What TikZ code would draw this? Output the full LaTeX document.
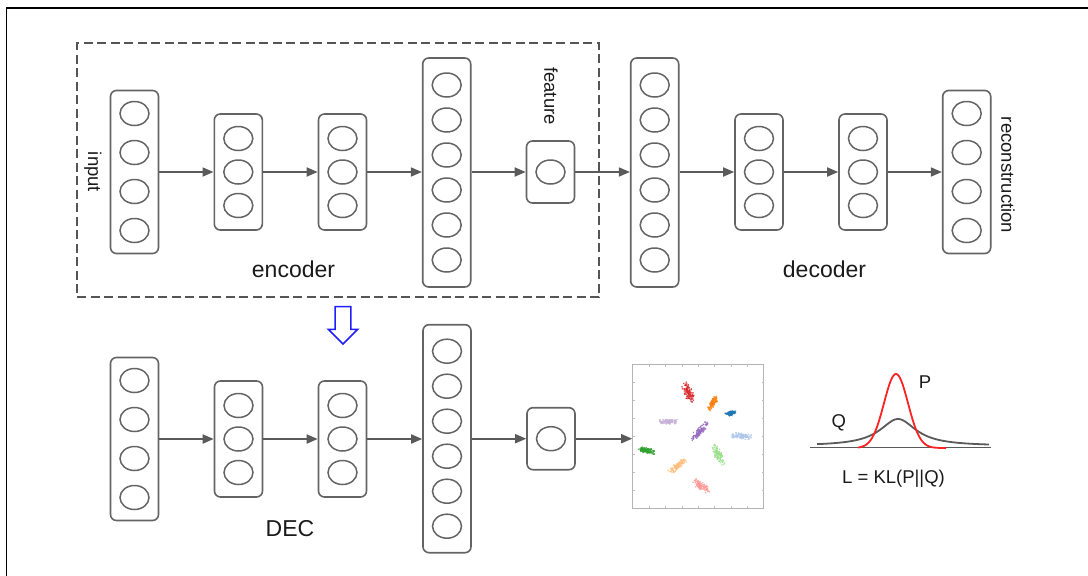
\documentclass[tikz,border=0pt]{standalone}
\usepackage{fontspec}
\setmainfont{Liberation Sans}
\usetikzlibrary{arrows.meta,shapes.geometric}
\definecolor{boxgray}{HTML}{646464}
\definecolor{arrowgray}{HTML}{5A5A5A}
\definecolor{dashgray}{HTML}{555555}
\definecolor{labelblack}{HTML}{1A1A1A}
\definecolor{scattergray}{HTML}{B4B4B4}
\definecolor{tickgray}{HTML}{C0C0C0}
\definecolor{arrowblue}{HTML}{1E1EFF}
\definecolor{pred}{HTML}{FF2222}
\definecolor{qgray}{HTML}{5A5A5A}
\definecolor{cred}{HTML}{D62728}
\definecolor{corange}{HTML}{FF7F0E}
\definecolor{cblue}{HTML}{1F77B4}
\definecolor{clav}{HTML}{C5B0D5}
\definecolor{cpurple}{HTML}{9467BD}
\definecolor{clblue}{HTML}{AEC7E8}
\definecolor{cgreen}{HTML}{2CA02C}
\definecolor{clgreen}{HTML}{98DF8A}
\definecolor{clorange}{HTML}{FFBB78}
\definecolor{cpink}{HTML}{FF9896}
% #1 name, #2 x, #3 y, #4 number of neurons, #5 spacing, #6 box height
\newcommand{\nnlayer}[6]{%
  \node[layerbox, minimum height=#6pt] (#1) at (#2,#3) {};
  \foreach \k in {1,...,#4}{%
    \pgfmathsetmacro{\cyy}{#3+(\k-(#4+1)/2)*#5}%
    \node[neuron] (#1-\k) at (#2,\cyy) {};
  }%
}
% #1 colour, #2 x, #3 y, #4 angle, #5 length, #6 width
\newcommand{\ptcluster}[6]{%
  \begin{scope}[shift={(#2,#3)}, rotate=#4]
    \foreach \k in {1,...,110}{%
      \pgfmathsetmacro{\px}{#5/2*(rand+rand)/2}%
      \pgfmathsetmacro{\py}{#6/2*(rand+rand)/2}%
      \fill[#1, opacity=0.8] (\px,\py) circle (0.9);
    }
  \end{scope}%
}
\begin{document}
\begin{tikzpicture}[x=1pt,y=-1pt,
  layerbox/.style={draw=boxgray, line width=1.6pt, rounded corners=6pt, minimum width=48pt, inner sep=0pt},
  neuron/.style={ellipse, draw=boxgray, line width=1.5pt, minimum width=29pt, minimum height=24pt, inner sep=0pt},
  conn/.style={draw=arrowgray, line width=1.7pt, -{Triangle[length=11pt,width=9pt]}},
  smalllab/.style={font=\fontsize{18.5}{22}\selectfont, text=labelblack, inner sep=0pt},
  biglab/.style={font=\fontsize{23}{27}\selectfont, text=labelblack, inner sep=0pt},
]
\useasboundingbox (0,0) rectangle (1088,576);
\pgfmathsetseed{7}

% outer frame (cropped)
\draw[line width=1.8pt, black] (6.5,580) -- (6.5,8.3) -- (1092,8.3);

% encoder dashed box
\node[draw=dashgray, line width=1.8pt, dash pattern=on 9pt off 4.5pt, minimum width=522pt, minimum height=254pt, inner sep=0pt] (encbox) at (338,170) {};

% top row
\nnlayer{L1}{134.5}{172}{4}{39}{163}
\nnlayer{L2}{238.3}{172}{3}{33.5}{116}
\nnlayer{L3}{342.5}{172}{3}{33.5}{116}
\nnlayer{L4}{446.7}{172.5}{6}{35}{229}
\nnlayer{feat}{550.5}{172}{1}{0}{62}
\nnlayer{L5}{654.7}{172.5}{6}{35}{229}
\nnlayer{L6}{759}{172}{3}{33.5}{116}
\nnlayer{L7}{863}{172}{3}{33.5}{116}
\nnlayer{L8}{966.7}{172}{4}{39}{163}

\draw[conn] (L1) -- (L2);
\draw[conn] (L2) -- (L3);
\draw[conn] (L3) -- (L4.west |- L3);
\draw[conn] (L4.east |- feat) -- (feat);
\draw[conn] (feat) -- (L5.west |- feat);
\draw[conn] (L5.east |- L6) -- (L6);
\draw[conn] (L6) -- (L7);
\draw[conn] (L7) -- (L8);

\node[smalllab, rotate=-90] (lblinput) at (93,172) {input};
\node[smalllab, rotate=-90] (lblfeat) at (551,96) {feature};
\node[smalllab, rotate=-90] (lblrec) at (1008,175) {reconstruction};
\node[biglab] (lblenc) at (293.5,269) {encoder};
\node[biglab] (lbldec) at (824.5,269) {decoder};

% blue hollow arrow
\draw[arrowblue, line width=1.5pt, line join=miter]
  (335.2,306.7) -- (350.8,306.7) -- (350.8,329.3) -- (357.7,329.3) -- (343,344) -- (328.3,329.3) -- (335.2,329.3) -- cycle;

% bottom row
\nnlayer{B1}{134.5}{439}{4}{39}{163}
\nnlayer{B2}{238.5}{439}{3}{33.5}{116}
\nnlayer{B3}{342.5}{439}{3}{33.5}{116}
\nnlayer{B4}{447}{438.7}{6}{35}{228}
\nnlayer{Bf}{551}{438.7}{1}{0}{62}

\draw[conn] (B1) -- (B2);
\draw[conn] (B2) -- (B3);
\draw[conn] (B3) -- (B4.west |- B3);
\draw[conn] (B4.east |- Bf) -- (Bf);

\node[biglab] (lblDEC) at (290,528.7) {DEC};

% scatter plot
\node[draw=scattergray, line width=1.2pt, minimum width=131pt, minimum height=144pt, inner sep=0pt] (scatter) at (698.3,436.3) {};
\draw[conn] (Bf) -- (Bf -| scatter.west);
\foreach \k in {1,...,7}{
  \draw[tickgray, line width=0.8pt] (632.7+\k*16.41,508.3) -- ++(0,-2.5);
  \draw[tickgray, line width=0.8pt] (632.7+\k*16.41,364.3) -- ++(0,2.5);
  \draw[tickgray, line width=0.8pt] (632.7,364.3+\k*18) -- ++(2.5,0);
  \draw[tickgray, line width=0.8pt] (764,364.3+\k*18) -- ++(-2.5,0);
}
\ptcluster{cred}{688.3}{391.7}{-70}{24}{10}
\ptcluster{corange}{712.7}{403.3}{59}{18}{6}
\ptcluster{cblue}{730.7}{413.3}{20}{12}{5}
\ptcluster{clav}{668.3}{421.7}{0}{21}{6}
\ptcluster{cpurple}{699.3}{431.7}{47}{26}{8}
\ptcluster{clblue}{741.7}{436}{-3}{22}{7}
\ptcluster{cgreen}{647.3}{450.7}{-12}{19}{6}
\ptcluster{clgreen}{718.3}{455}{-64}{25}{9}
\ptcluster{clorange}{677.3}{466}{39}{22}{7}
\ptcluster{cpink}{701}{486}{-35}{22}{8}

% KL plot
\draw[qgray, line width=1.5pt] (810,447.7) -- (991,447.7);
\draw[qgray, line width=1.8pt] plot[domain=817:989, samples=120, smooth] (\x, {446 - 27/(1+((\x-898)/22)^2)});
\draw[pred, line width=1.8pt] plot[domain=858:946, samples=120, smooth] (\x, {448 - 74*exp(-((\x-896)/12)^2/2)});
\node[smalllab] (lblP) at (925,382.5) {P};
\node[smalllab] (lblQ) at (838.7,422.7) {Q};
\node[smalllab] (lblL) at (893.5,479) {L = KL(P||Q)};
\end{tikzpicture}
\end{document}
